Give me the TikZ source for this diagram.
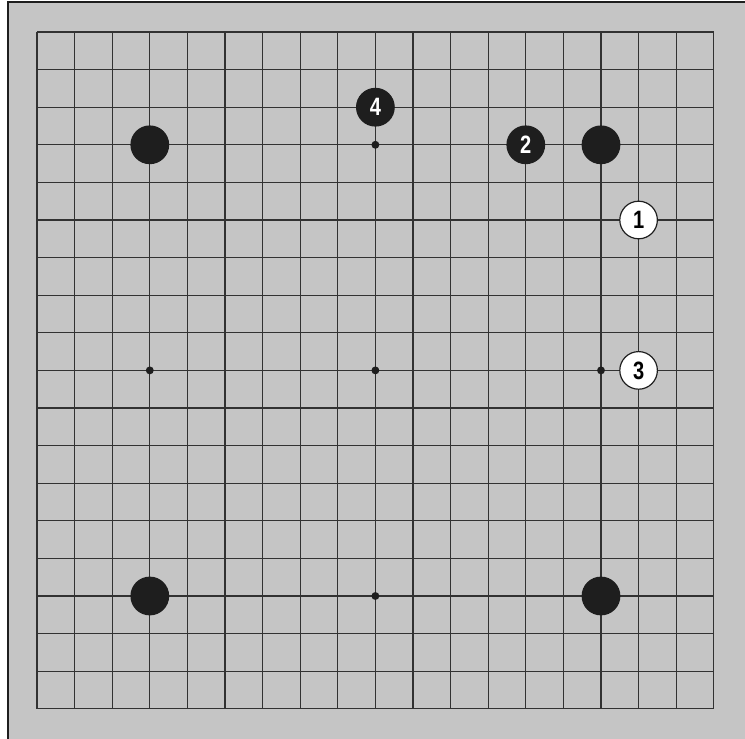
\documentclass[tikz,border=0pt]{standalone}
\usepackage{fontspec}
\setmainfont{Liberation Sans}
\usetikzlibrary{positioning}
\definecolor{boardgray}{RGB}{197,197,197}
\definecolor{inkblack}{RGB}{30,30,30}
\definecolor{linegray}{RGB}{50,50,50}

\begin{document}
\begin{tikzpicture}[
    stone/.style={circle, draw=inkblack, line width=0.9pt, minimum size=1cm, inner sep=0pt, font=\fontsize{19}{19}\selectfont\bfseries},
    blackstone/.style={stone, fill=inkblack, text=white},
    whitestone/.style={stone, fill=white, text=black},
    hoshi/.style={circle, fill=inkblack, minimum size=0.21cm, inner sep=0pt},
    gridline/.style={draw=linegray, line width=0.9pt}
]
\useasboundingbox (-0.984,-18.80) rectangle (18.83,0.851);

% Board
\fill[white] (-0.984,-18.80) rectangle (18.83,0.851);
\fill[boardgray] (-0.771,-18.80) rectangle (18.83,0.798);
\draw[line width=1.5pt, draw=inkblack] (-0.771,-18.80) -- (-0.771,0.798) -- (18.83,0.798);

% Grid lines
\foreach \i in {0,...,18} {
    \draw[gridline] (\i,0) -- (\i,-18);
    \draw[gridline] (0,-\i) -- (18,-\i);
}

% Star points
\foreach \x in {3,9,15} {
    \foreach \y in {3,9,15} {
        \node[hoshi] (hoshi-\x-\y) at (\x,-\y) {};
    }
}

% Corner stones
\node[blackstone] (b-tl) at (3,-3) {};
\node[blackstone] (b-tr) at (15,-3) {};
\node[blackstone] (b-bl) at (3,-15) {};
\node[blackstone] (b-br) at (15,-15) {};

% Numbered moves
\node[whitestone] (w-1) at (16,-5) {\scalebox{0.8}[1]{1}};
\node[blackstone] (b-2) at (13,-3) {\scalebox{0.8}[1]{2}};
\node[whitestone] (w-3) at (16,-9) {\scalebox{0.8}[1]{3}};
\node[blackstone] (b-4) at (9,-2) {\scalebox{0.8}[1]{4}};

\end{tikzpicture}
\end{document}
